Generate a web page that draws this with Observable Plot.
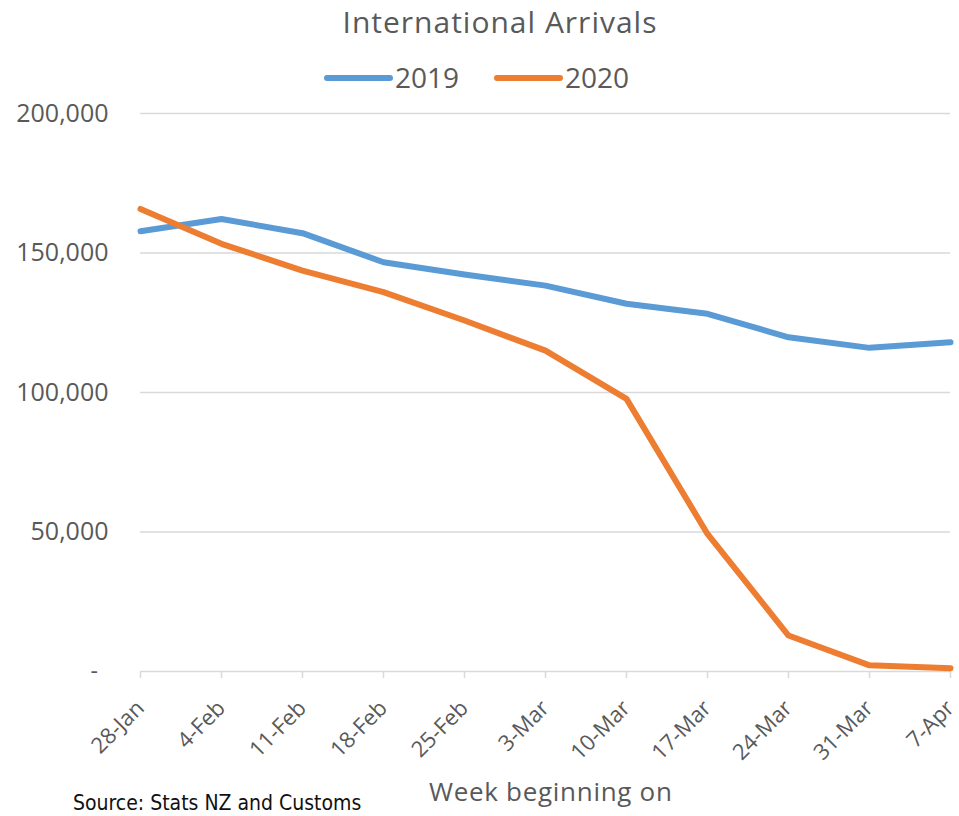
<!DOCTYPE html>
<html>
<head>
<meta charset="utf-8">
<script src="https://cdn.jsdelivr.net/npm/d3@7"></script>
<script src="https://cdn.jsdelivr.net/npm/@observablehq/plot@0.6"></script>
<style>
  body { margin: 0; background: #fff; font-family: "Open Sans", sans-serif; }
  #wrap { width: 959px; height: 816px; overflow: hidden; }
  svg { display: block; overflow: visible; }
</style>
</head>
<body>
<div id="wrap">
  <svg id="head" width="959" height="98"></svg>
  <div id="chart"></div>
  <svg id="foot" width="959" height="58"></svg>
</div>
<script>
// Weekly international arrivals, week beginning on each date
const weeks = ["28-Jan", "4-Feb", "11-Feb", "18-Feb", "25-Feb", "3-Mar", "10-Mar", "17-Mar", "24-Mar", "31-Mar", "7-Apr"];
const arrivals2019 = [157800, 162200, 157100, 146700, 142300, 138300, 131800, 128200, 119800, 116000, 118000];
const arrivals2020 = [165800, 153300, 143700, 136000, 125800, 115000, 97700, 49300, 12900, 2200, 1200];
const seriesNames = ["2019", "2020"];
const seriesColors = ["#5b9bd5", "#ed7d31"];
const yTicks = [0, 50000, 100000, 150000, 200000];

const rows = [];
weeks.forEach((w, i) => {
  rows.push({week: w, year: "2019", value: arrivals2019[i]});
  rows.push({week: w, year: "2020", value: arrivals2020[i]});
});

const grey = "#595959";

// Title and legend
const head = d3.select("#head");
head.append("text")
  .attr("x", 500).attr("y", 33)
  .attr("text-anchor", "middle")
  .attr("font-size", 30).attr("letter-spacing", 1).attr("fill", grey)
  .text("International Arrivals");
const legendX = [327, 497];
seriesNames.forEach((name, i) => {
  const g = head.append("g").attr("transform", `translate(${legendX[i]},78)`);
  g.append("line").attr("x1", 0).attr("x2", 63).attr("y1", 0).attr("y2", 0)
    .attr("stroke", seriesColors[i]).attr("stroke-width", 6).attr("stroke-linecap", "round");
  g.append("text").attr("x", 68).attr("y", 10)
    .attr("font-size", 28).attr("fill", grey).text(name);
});

// Footer: axis title and source note
const foot = d3.select("#foot");
foot.append("text")
  .attr("x", 429).attr("y", 43)
  .attr("font-size", 26).attr("letter-spacing", 0.7).attr("fill", grey)
  .text("Week beginning on");
foot.append("text")
  .attr("x", 73).attr("y", 52)
  .attr("font-family", "'DejaVu Sans Condensed', 'DejaVu Sans', sans-serif")
  .attr("font-stretch", "condensed")
  .attr("font-size", 21).attr("fill", "#111")
  .text("Source: Stats NZ and Customs");

const fmt = d3.format(",");
const chart = Plot.plot({
  width: 959,
  height: 660,
  marginTop: 15,
  marginBottom: 87,
  marginLeft: 140,
  marginRight: 9,
  style: {fontFamily: "'Open Sans', sans-serif", color: grey, background: "#fff", overflow: "visible"},
  x: {type: "point", domain: weeks, padding: 0},
  y: {domain: [0, 200000]},
  color: {domain: seriesNames, range: seriesColors},
  marks: [
    Plot.gridY(yTicks.filter(d => d > 0), {stroke: "#d9d9d9", strokeOpacity: 1, strokeWidth: 1.5}),
    Plot.ruleY([0], {stroke: "#d9d9d9", strokeWidth: 1.5}),
    Plot.axisX({tickSize: 7, stroke: "#d9d9d9", strokeWidth: 1.5, tickFormat: () => "", label: null}),
    Plot.axisX({tickSize: 0, tickRotate: -45, tickPadding: 33, dx: 0, fontSize: 22, fill: grey, label: null}),
    Plot.axisY(yTicks.filter(d => d > 0), {tickSize: 0, tickPadding: 32, tickFormat: fmt, fontSize: 25, fill: grey, label: null}),
    Plot.text([0], {y: d => d, frameAnchor: "left", dx: -50, text: () => "-", fontSize: 23, fill: grey}),
    Plot.line(rows, {x: "week", y: "value", z: "year", stroke: "year", strokeWidth: 6, strokeLinejoin: "round", strokeLinecap: "round"})
  ]
});
document.getElementById("chart").appendChild(chart);
</script>
</body>
</html>
